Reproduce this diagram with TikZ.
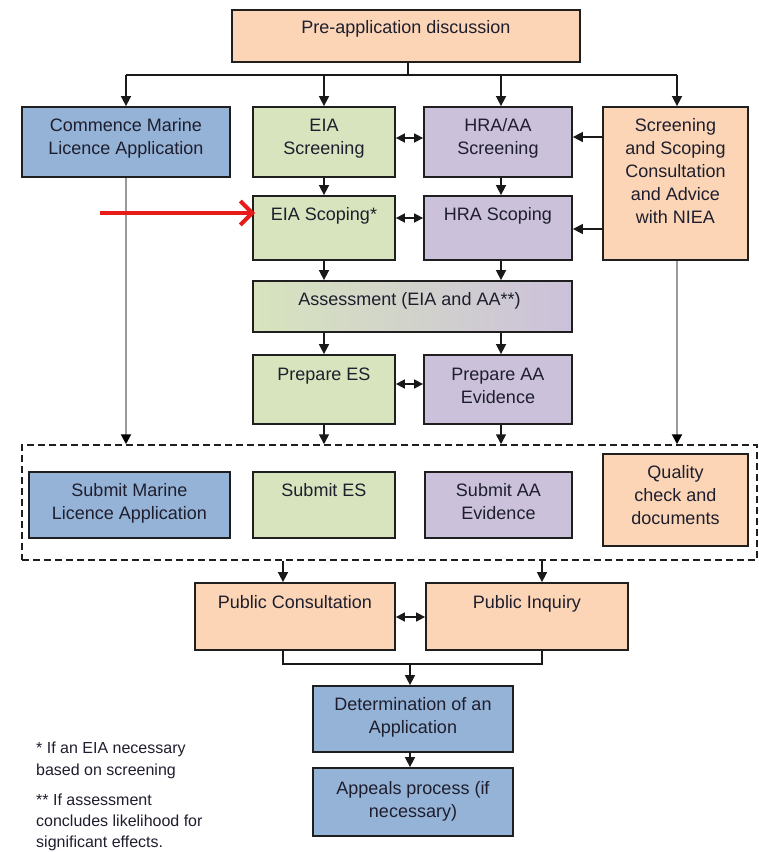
\documentclass[tikz,border=0pt]{standalone}
\usepackage{fontspec}
\setmainfont{Liberation Sans}
\usetikzlibrary{arrows.meta,calc}
\definecolor{peach}{HTML}{FBD5B5}
\definecolor{bluec}{HTML}{95B3D7}
\definecolor{greenc}{HTML}{D7E4BD}
\definecolor{purplec}{HTML}{CCC1DA}
\definecolor{textc}{HTML}{1E1E2E}
\definecolor{redc}{HTML}{E81B1B}
\definecolor{greyl}{HTML}{9A9A9A}
\tikzset{
 box/.style={draw=black!88, line width=1.8pt, rectangle, inner sep=0pt},
 txt/.style={anchor=north, inner sep=0pt, align=center, text=textc, font=\fontsize{18}{23}\selectfont},
 note/.style={anchor=north west, inner sep=0pt, align=left, text=textc, font=\fontsize{16}{22}\selectfont},
 arr/.style={line width=1.6pt, draw=black!90, -{Triangle[length=10pt,width=10pt]}},
 garr/.style={line width=2pt, draw=greyl, -{Triangle[length=10pt,width=10pt,color=black]}},
 dbl/.style={line width=1.6pt, draw=black!90, {Triangle[length=9pt,width=9pt]}-{Triangle[length=9pt,width=9pt]}},
 conn/.style={line width=1.6pt, draw=black!90},
 dashbox/.style={draw=black!88, dash pattern=on 7pt off 4pt, line width=1.5pt, rectangle, inner sep=0pt},
}
\begin{document}
\begin{tikzpicture}[x=1pt,y=-1pt]
\useasboundingbox (0,0) rectangle (759,852);
% boxes
\node[box, fill=peach, minimum width=348pt, minimum height=52pt] (pre) at (406,36) {};
\node[box, fill=bluec, minimum width=208pt, minimum height=70pt] (cml) at (126,142) {};
\node[box, fill=greenc, minimum width=142pt, minimum height=70pt] (eias) at (324,142) {};
\node[box, fill=purplec, minimum width=148pt, minimum height=70pt] (hras) at (498,142) {};
\node[box, fill=peach, minimum width=145pt, minimum height=153pt] (ssc) at (675.5,183.5) {};
\node[box, fill=greenc, minimum width=142pt, minimum height=64pt] (eiasc) at (324,228) {};
\node[box, fill=purplec, minimum width=148pt, minimum height=64pt] (hrasc) at (498,228) {};
\node[box, left color=greenc, right color=purplec, minimum width=319pt, minimum height=51pt] (assess) at (412.5,306.5) {};
\node[box, fill=greenc, minimum width=142pt, minimum height=69pt] (pes) at (324,389.5) {};
\node[box, fill=purplec, minimum width=148pt, minimum height=69pt] (paa) at (498,389.5) {};
\node[dashbox, minimum width=735pt, minimum height=115pt] (dbox) at (389.5,502.5) {};
\node[box, fill=bluec, minimum width=201pt, minimum height=66pt] (sml) at (129.5,505) {};
\node[box, fill=greenc, minimum width=142pt, minimum height=66pt] (ses) at (324,505) {};
\node[box, fill=purplec, minimum width=147pt, minimum height=66pt] (saa) at (498.5,505) {};
\node[box, fill=peach, minimum width=145pt, minimum height=92pt] (qc) at (675.5,500) {};
\node[box, fill=peach, minimum width=200pt, minimum height=67pt] (pc) at (295,616.5) {};
\node[box, fill=peach, minimum width=202pt, minimum height=67pt] (pi) at (527,616.5) {};
\node[box, fill=bluec, minimum width=200pt, minimum height=66pt] (det) at (413,719) {};
\node[box, fill=bluec, minimum width=200pt, minimum height=68pt] (app) at (413,802) {};
% texts
\node[txt] (pre-t) at ([yshift=-11pt]pre.north) {Pre-application discussion};
\node[txt] (cml-t) at ([yshift=-12.5pt]cml.north) {Commence Marine\\Licence Application};
\node[txt] (eias-t) at ([yshift=-12.5pt]eias.north) {EIA\\Screening};
\node[txt] (hras-t) at ([yshift=-12.5pt]hras.north) {HRA/AA\\Screening};
\node[txt] (ssc-t) at ([yshift=-12.5pt]ssc.north) {Screening\\and Scoping\\Consultation\\and Advice\\with NIEA};
\node[txt] (eiasc-t) at ([yshift=-12.5pt]eiasc.north) {EIA Scoping*};
\node[txt] (hrasc-t) at ([yshift=-12.5pt]hrasc.north) {HRA Scoping};
\node[txt] (assess-t) at ([yshift=-12.5pt,xshift=-3pt]assess.north) {Assessment (EIA and AA**)};
\node[txt] (pes-t) at ([yshift=-13.5pt]pes.north) {Prepare ES};
\node[txt] (paa-t) at ([yshift=-13.5pt]paa.north) {Prepare AA\\Evidence};
\node[txt] (sml-t) at ([yshift=-12pt]sml.north) {Submit Marine\\Licence Application};
\node[txt] (ses-t) at ([yshift=-12pt]ses.north) {Submit ES};
\node[txt] (saa-t) at ([yshift=-12pt]saa.north) {Submit AA\\Evidence};
\node[txt] (qc-t) at ([yshift=-12.5pt]qc.north) {Quality\\check and\\documents};
\node[txt] (pc-t) at ([yshift=-13.5pt]pc.north) {Public Consultation};
\node[txt] (pi-t) at ([yshift=-13.5pt]pi.north) {Public Inquiry};
\node[txt] (det-t) at ([yshift=-12.5pt]det.north) {Determination of an\\Application};
\node[txt] (app-t) at ([yshift=-14pt]app.north) {Appeals process (if\\necessary)};
% footnotes
\node[note] (fn1) at (36,742) {* If an EIA necessary\\based on screening};
\node[note, font=\fontsize{16}{21}\selectfont] (fn2) at (36,794) {** If assessment\\concludes likelihood for\\significant effects.};
% top branch
\coordinate (br) at (408,75);
\draw[conn] (pre.south -| br) -- (br);
\draw[conn] (cml.north |- br) -- ([xshift=1.5pt]ssc.north |- br);
\draw[arr] (cml.north |- br) -- (cml.north);
\draw[arr] (eias.north |- br) -- (eias.north);
\draw[arr] ([xshift=3pt]hras.north |- br) -- ([xshift=3pt]hras.north);
\draw[arr] ([xshift=1.5pt]ssc.north |- br) -- ([xshift=1.5pt]ssc.north);
% row links
\draw[arr] (eias.south) -- (eiasc.north);
\draw[arr] ([xshift=3pt]hras.south) -- ([xshift=3pt]hrasc.north);
\coordinate (d1) at (0,138);
\coordinate (d2) at (0,218);
\draw[dbl] (eias.east |- d1) -- (hras.west |- d1);
\draw[dbl] (eiasc.east |- d2) -- (hrasc.west |- d2);
\coordinate (s1) at (0,137);
\coordinate (s2) at (0,229);
\draw[arr] (ssc.west |- s1) -- (hras.east |- s1);
\draw[arr] (ssc.west |- s2) -- (hrasc.east |- s2);
\draw[arr] (eiasc.south) -- (eiasc.south |- assess.north);
\draw[arr] ([xshift=3pt]hrasc.south) -- ([xshift=3pt]hrasc.south |- assess.north);
\draw[arr] (pes.north |- assess.south) -- (pes.north);
\draw[arr] ([xshift=3pt]paa.north |- assess.south) -- ([xshift=3pt]paa.north);
\coordinate (d3) at (0,384);
\draw[dbl] (pes.east |- d3) -- (paa.west |- d3);
\draw[arr] (pes.south) -- (pes.south |- dbox.north);
\draw[arr] ([xshift=3pt]paa.south) -- ([xshift=3pt]paa.south |- dbox.north);
\draw[garr] (cml.south) -- (cml.south |- dbox.north);
\draw[garr] ([xshift=1.5pt]ssc.south) -- ([xshift=1.5pt]ssc.south |- dbox.north);
% lower part
\draw[arr] ([xshift=-12pt]pc.north |- dbox.south) -- ([xshift=-12pt]pc.north);
\draw[arr] ([xshift=15pt]pi.north |- dbox.south) -- ([xshift=15pt]pi.north);
\coordinate (d4) at (0,617);
\draw[dbl] (pc.east |- d4) -- (pi.west |- d4);
\coordinate (m) at (410,664);
\draw[conn] ([xshift=-12pt]pc.south) |- ([xshift=15pt]pi.south |- m) -- ([xshift=15pt]pi.south);
\draw[arr] ([xshift=-3pt]det.north |- m) -- ([xshift=-3pt]det.north);
\draw[arr] ([xshift=-3pt]det.south) -- ([xshift=-3pt]app.north);
% red pointer
\coordinate (rs) at (100,213);
\draw[line width=4pt, redc, -{Straight Barb[length=12pt,width=24pt]}] (rs) -- ([xshift=3pt]eiasc.west |- rs);
\end{tikzpicture}
\end{document}
